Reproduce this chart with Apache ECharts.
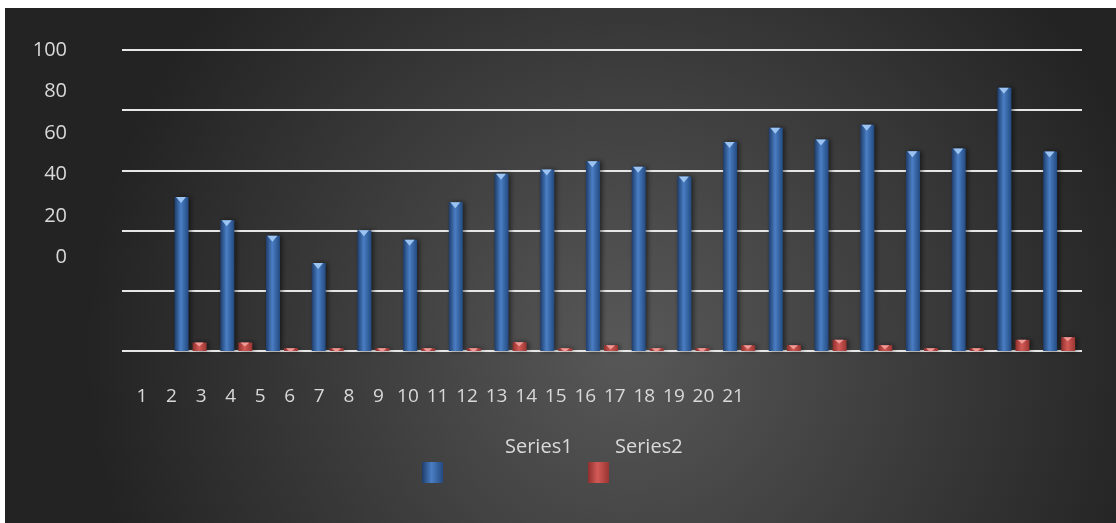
<!DOCTYPE html>
<html>
<head>
<meta charset="utf-8">
<script src="https://cdn.jsdelivr.net/npm/echarts@6/dist/echarts.min.js"></script>
<style>
  html, body { margin: 0; padding: 0; background: #fff; }
  #main { width: 1116px; height: 523px; }
</style>
</head>
<body>
<div id="main"></div>
<script>
// data
const categories = ['1', '2', '3', '4', '5', '6', '7', '8', '9', '10', '11',
  '12', '13', '14', '15', '16', '17', '18', '19', '20', '21'];
const series1 = [null, 51.2, 43.4, 38.3, 29.2, 40.1, 37, 49.4, 58.9, 60.3, 63,
  61.2, 58, 69.4, 74.2, 70.3, 75.2, 66.4, 67.3, 87.5, 66.3];
const series2 = [null, 2.8, 2.8, 0.9, 0.9, 0.9, 0.9, 0.9, 2.9, 0.9, 1.9,
  0.9, 0.9, 1.9, 1.9, 3.7, 1.9, 0.9, 0.9, 3.7, 4.6];
const yTicks = [0, 20, 40, 60, 80, 100];

const textColor = '#d9d9d9';
const font = '"Open Sans", Lato, sans-serif';

const blueFill = new echarts.graphic.LinearGradient(0, 0, 1, 0, [
  { offset: 0, color: '#1e3d6b' },
  { offset: 0.45, color: '#4a7ec4' },
  { offset: 1, color: '#234a80' }
]);
const redFill = new echarts.graphic.LinearGradient(0, 0, 1, 0, [
  { offset: 0, color: '#8e2f2d' },
  { offset: 0.45, color: '#d25a56' },
  { offset: 1, color: '#9a3532' }
]);

// legend is split: icons in one row, names placed above and to the side
function iconLegend(name, left) {
  return {
    data: [name], left: left, top: 457,
    itemWidth: 21, itemHeight: 21, icon: 'rect',
    formatter: () => ''
  };
}
function textLegend(name, left) {
  return {
    data: [name], left: left, top: 432,
    itemWidth: 0, itemHeight: 0, icon: 'rect',
    textStyle: { color: textColor, fontFamily: font, fontSize: 20 }
  };
}

const chart = echarts.init(document.getElementById('main'));
const option = {
  backgroundColor: '#ffffff',
  animation: false,
  graphic: {
    elements: [{
      type: 'rect',
      z: -10,
      silent: true,
      shape: { x: 5, y: 8, width: 1111, height: 515 },
      style: {
        fill: {
          type: 'radial', x: 0.56, y: 0.66, r: 1.05,
          colorStops: [
            { offset: 0, color: '#585858' },
            { offset: 0.6, color: '#383838' },
            { offset: 1, color: '#232323' }
          ]
        }
      }
    }]
  },
  legend: [
    iconLegend('Series1', 417),
    textLegend('Series1', 495),
    iconLegend('Series2', 583),
    textLegend('Series2', 605)
  ],
  grid: [
    { left: 122, right: 34, top: 50, bottom: 172 },   // bars
    { left: 75, width: 10, top: 50, height: 207.7 },   // y tick labels
    { left: 127.2, width: 620.6, top: 380, height: 4 } // x tick labels
  ],
  xAxis: [
    {
      type: 'category', data: categories, gridIndex: 0,
      axisLine: { show: false }, axisTick: { show: false }, axisLabel: { show: false }
    },
    { type: 'value', gridIndex: 1, show: false },
    {
      type: 'category', data: categories, gridIndex: 2,
      axisLine: { show: false }, axisTick: { show: false },
      axisLabel: { color: textColor, fontFamily: font, fontSize: 19, margin: 3, interval: 0 }
    }
  ],
  yAxis: [
    {
      type: 'value', gridIndex: 0, min: 0, max: 100, interval: 20,
      axisLine: { show: false }, axisTick: { show: false }, axisLabel: { show: false },
      splitLine: { lineStyle: { color: '#e6e6e6', width: 2 } }
    },
    {
      type: 'value', gridIndex: 1, min: 0, max: 100,
      axisLine: { show: false }, axisTick: { show: false }, splitLine: { show: false },
      axisLabel: { color: textColor, fontFamily: font, fontSize: 20, margin: 8, customValues: yTicks }
    },
    { type: 'value', gridIndex: 2, show: false }
  ],
  series: [
    {
      name: 'Series1', type: 'bar', data: series1,
      barWidth: 14, barGap: '29%',
      itemStyle: {
        color: blueFill,
        shadowColor: 'rgba(0,0,0,0.55)', shadowBlur: 5, shadowOffsetX: 2
      }
    },
    {
      name: 'Series2', type: 'bar', data: series2,
      barWidth: 14, barGap: '29%',
      itemStyle: {
        color: redFill,
        shadowColor: 'rgba(0,0,0,0.55)', shadowBlur: 5, shadowOffsetX: 2
      }
    },
    // bevel highlight on top of each bar
    {
      name: 'Series1', type: 'pictorialBar', data: series1, z: 3,
      symbol: 'triangle', symbolRotate: 180, symbolSize: [10, 6],
      symbolPosition: 'end', symbolOffset: [-9.6, 0],
      itemStyle: { color: '#9cc4f2' }, silent: true
    },
    {
      name: 'Series2', type: 'pictorialBar', data: series2, z: 3,
      symbol: 'triangle', symbolRotate: 180, symbolSize: [9, 4],
      symbolPosition: 'end', symbolOffset: [8.6, 0],
      itemStyle: { color: '#f09a97' }, silent: true
    }
  ]
};
chart.setOption(option);
</script>
</body>
</html>
